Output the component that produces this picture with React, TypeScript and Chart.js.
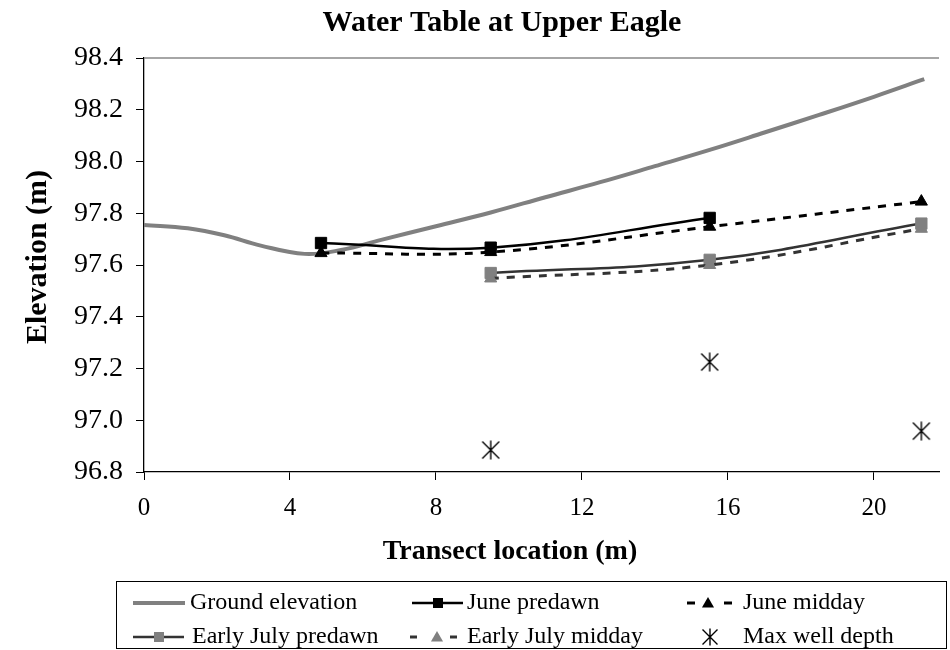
import React, { useEffect, useRef } from 'react';
import { Chart, registerables } from 'chart.js';

Chart.register(...registerables);

const FONT = '"Liberation Serif", "Times New Roman", Times, serif';

const chartTitle = 'Water Table at Upper Eagle';
const xAxisTitle = 'Transect location (m)';
const yAxisTitle = 'Elevation (m)';

const xTicks = [0, 4, 8, 12, 16, 20];
const yTicks = [96.8, 97.0, 97.2, 97.4, 97.6, 97.8, 98.0, 98.2, 98.4];

const groundX = [0, 1.2, 2.2, 3.2, 4.4, 5.4, 6.5, 8, 9.5, 11, 12.5, 14, 15.5, 17, 18.5, 20, 21.38];
const groundY = [97.755, 97.742, 97.715, 97.675, 97.643, 97.658, 97.697, 97.75, 97.803, 97.862, 97.92, 97.982, 98.045, 98.112, 98.18, 98.25, 98.318];

const junePredawnX = [4.85, 9.5, 15.5];
const junePredawnY = [97.685, 97.667, 97.782];

const juneMiddayX = [4.85, 9.5, 15.5, 21.3];
const juneMiddayY = [97.646, 97.65, 97.748, 97.845];

const julyPredawnX = [9.5, 15.5, 21.3];
const julyPredawnY = [97.569, 97.62, 97.76];

const julyMiddayX = [9.5, 15.5, 21.3];
const julyMiddayY = [97.548, 97.6, 97.74];

const maxDepthX = [9.5, 15.5, 21.3];
const maxDepthY = [96.885, 97.225, 96.958];

const seriesNames = [
  'Ground elevation',
  'June predawn',
  'June midday',
  'Early July predawn',
  'Early July midday',
  'Max well depth',
];

const zip = (xs: number[], ys: number[]) => xs.map((x, i) => ({ x, y: ys[i] }));

function makeStar(size: number): HTMLCanvasElement {
  const c = document.createElement('canvas');
  c.width = size;
  c.height = size;
  const g = c.getContext('2d')!;
  g.strokeStyle = '#000';
  g.lineWidth = 1.4;
  g.beginPath();
  const m = size / 2;
  g.moveTo(m, 0.5);
  g.lineTo(m, size - 0.5);
  g.moveTo(1.5, 1.5);
  g.lineTo(size - 1.5, size - 1.5);
  g.moveTo(size - 1.5, 1.5);
  g.lineTo(1.5, size - 1.5);
  g.stroke();
  return c;
}

export default function App() {
  const ref = useRef<HTMLCanvasElement>(null);

  useEffect(() => {
    const canvas = ref.current!;
    const star = makeStar(20);
    const starSmall = makeStar(18);

    const overlay = {
      id: 'overlay',
      beforeDatasetsDraw(chart: any) {
        const { ctx, chartArea } = chart;
        ctx.save();
        ctx.strokeStyle = '#888888';
        ctx.lineWidth = 1.5;
        ctx.beginPath();
        ctx.moveTo(chartArea.left, chartArea.top);
        ctx.lineTo(chartArea.right, chartArea.top);
        ctx.stroke();
        ctx.restore();
      },
      afterDraw(chart: any) {
        const ctx: CanvasRenderingContext2D = chart.ctx;
        ctx.save();
        ctx.fillStyle = '#000';
        ctx.textBaseline = 'middle';
        ctx.textAlign = 'center';
        ctx.font = `bold 30px ${FONT}`;
        ctx.fillText(chartTitle, 502, 23);
        ctx.font = `bold 28px ${FONT}`;
        ctx.fillText(xAxisTitle, 510, 552);
        ctx.save();
        ctx.font = `bold 30px ${FONT}`;
        ctx.translate(38, 257);
        ctx.rotate(-Math.PI / 2);
        ctx.fillText(yAxisTitle, 0, 0);
        ctx.restore();

        // legend box
        ctx.strokeStyle = '#000';
        ctx.lineWidth = 1;
        ctx.strokeRect(116.5, 581.5, 830, 67);

        const line = (x1: number, x2: number, y: number, color: string, w: number) => {
          ctx.strokeStyle = color;
          ctx.lineWidth = w;
          ctx.setLineDash([]);
          ctx.beginPath();
          ctx.moveTo(x1, y);
          ctx.lineTo(x2, y);
          ctx.stroke();
        };
        const square = (x: number, y: number, s: number, color: string) => {
          ctx.fillStyle = color;
          ctx.fillRect(x - s / 2, y - s / 2, s, s);
        };
        const tri = (x: number, y: number, r: number, color: string) => {
          ctx.fillStyle = color;
          ctx.beginPath();
          ctx.moveTo(x, y - r);
          ctx.lineTo(x + r * 0.866, y + r * 0.5);
          ctx.lineTo(x - r * 0.866, y + r * 0.5);
          ctx.closePath();
          ctx.fill();
        };

        const r1 = 603;
        const r2 = 637;
        // col 1
        line(133, 185, r1, '#808080', 4);
        line(133, 184, r2, '#333333', 2.5);
        square(159, r2, 10, '#808080');
        // col 2
        line(412, 463, r1, '#000000', 2.5);
        square(438, r1, 10, '#000000');
        line(410, 417, r2, '#333333', 3);
        line(450, 457, r2, '#333333', 3);
        tri(437, r2 + 1, 7, '#808080');
        // col 3
        line(687, 695, r1, '#000000', 3);
        line(724, 732, r1, '#000000', 3);
        tri(708, r1 + 1, 7, '#000000');
        ctx.drawImage(starSmall, 710 - 9, r2 - 9);

        ctx.fillStyle = '#000';
        ctx.textAlign = 'left';
        ctx.font = `24px ${FONT}`;
        ctx.fillText(seriesNames[0], 190, r1);
        ctx.fillText(seriesNames[1], 467, r1);
        ctx.fillText(seriesNames[2], 743, r1);
        ctx.fillText(seriesNames[3], 192, r2);
        ctx.fillText(seriesNames[4], 467, r2);
        ctx.fillText(seriesNames[5], 743, r2);
        ctx.restore();
      },
    };

    const chart = new Chart(canvas, {
      type: 'line',
      data: {
        datasets: [
          {
            label: seriesNames[0],
            data: zip(groundX, groundY),
            borderColor: '#808080',
            borderWidth: 4,
            pointRadius: 0,
            tension: 0.4,
            order: 6,
          },
          {
            label: seriesNames[1],
            data: zip(junePredawnX, junePredawnY),
            borderColor: '#000000',
            borderWidth: 2.5,
            pointStyle: 'rect',
            pointRadius: 8,
            pointBackgroundColor: '#000000',
            pointBorderColor: '#000000',
            pointBorderWidth: 1,
            tension: 0.4,
            order: 5,
          },
          {
            label: seriesNames[2],
            data: zip(juneMiddayX, juneMiddayY),
            borderColor: '#000000',
            borderWidth: 3,
            borderDash: [8, 8],
            pointStyle: 'triangle',
            pointRadius: 7,
            pointBackgroundColor: '#000000',
            pointBorderColor: '#000000',
            pointBorderWidth: 1,
            tension: 0.4,
            order: 4,
          },
          {
            label: seriesNames[3],
            data: zip(julyPredawnX, julyPredawnY),
            borderColor: '#333333',
            borderWidth: 2.5,
            pointStyle: 'rect',
            pointRadius: 8,
            pointBackgroundColor: '#808080',
            pointBorderColor: '#808080',
            pointBorderWidth: 1,
            tension: 0.4,
            order: 3,
          },
          {
            label: seriesNames[4],
            data: zip(julyMiddayX, julyMiddayY),
            borderColor: '#333333',
            borderWidth: 3,
            borderDash: [8, 8],
            pointStyle: 'triangle',
            pointRadius: 7,
            pointBackgroundColor: '#808080',
            pointBorderColor: '#808080',
            pointBorderWidth: 1,
            tension: 0.4,
            order: 2,
          },
          {
            label: seriesNames[5],
            data: zip(maxDepthX, maxDepthY),
            showLine: false,
            pointStyle: star as any,
            pointRadius: 10,
            order: 1,
          },
        ],
      },
      options: {
        animation: false,
        responsive: false,
        devicePixelRatio: 1,
        layout: { padding: { top: 58, left: 0, right: 0, bottom: 0 } },
        plugins: {
          legend: { display: false },
          title: { display: false },
          tooltip: { enabled: false },
        },
        elements: { line: { fill: false } },
        scales: {
          x: {
            type: 'linear',
            min: 0,
            max: (950 - 144) / 37,
            afterFit: (s: any) => {
              s.height = 178;
            },
            afterBuildTicks: (s: any) => {
              s.ticks = xTicks.map((v) => ({ value: v }));
            },
            ticks: {
              font: { family: FONT, size: 25 },
              color: '#000',
              padding: 13,
              maxRotation: 0,
              autoSkip: false,
              callback: (v: any) => String(v),
            },
            grid: {
              drawOnChartArea: false,
              drawTicks: true,
              tickLength: 8,
              tickColor: '#000',
              tickWidth: 1,
            },
            border: { color: '#000', width: 1.3 },
          },
          y: {
            type: 'linear',
            min: 96.8,
            max: 98.4,
            afterFit: (s: any) => {
              s.width = 144;
            },
            afterBuildTicks: (s: any) => {
              s.ticks = yTicks.map((v) => ({ value: v }));
            },
            ticks: {
              font: { family: FONT, size: 28 },
              color: '#000',
              padding: 13,
              autoSkip: false,
              callback: (v: any) => Number(v).toFixed(1),
            },
            grid: {
              drawOnChartArea: false,
              drawTicks: true,
              tickLength: 8,
              tickColor: '#000',
              tickWidth: 1,
            },
            border: { color: '#000', width: 1.3 },
          },
        },
      },
      plugins: [overlay],
    } as any);

    return () => chart.destroy();
  }, []);

  return (
    <div style={{ position: 'absolute', left: 0, top: 0, width: 950, height: 650, background: '#fff' }}>
      <canvas ref={ref} width={950} height={650} style={{ display: 'block' }} />
    </div>
  );
}
